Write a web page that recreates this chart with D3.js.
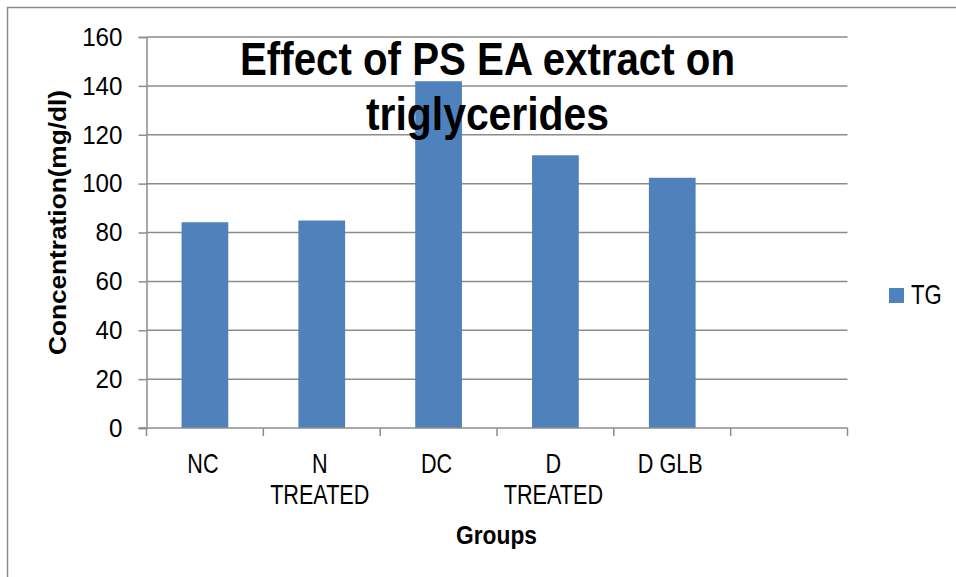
<!DOCTYPE html>
<html>
<head>
<meta charset="utf-8">
<script src="https://cdn.jsdelivr.net/npm/d3@7"></script>
<style>
  body { margin: 0; background: #fff; }
  text { font-family: "Liberation Sans Narrow", "Arial Narrow", "Liberation Sans", Arial, sans-serif; }
</style>
</head>
<body>
<div id="chart"></div>
<script>
// chart data
var groups = ["NC", "N\nTREATED", "DC", "D\nTREATED", "D GLB", ""];
var tg_values = [84.2, 84.9, 141.9, 111.6, 102.4, null];
var y_ticks = [0, 20, 40, 60, 80, 100, 120, 140, 160];
var series_name = "TG";
var title_lines = ["Effect of PS EA extract on", "triglycerides"];

var W = 956, H = 577;
var margin = {top: 37, right: 109, bottom: 149, left: 146.5};

var svg = d3.select("#chart")
  .append("svg")
  .attr("width", W)
  .attr("height", H);

// squeeze text horizontally around its anchor (the original uses a narrow font)
function squeeze(sel, cx, sx) {
  sel.attr("transform", "translate(" + cx + ",0) scale(" + sx + ",1) translate(" + (-cx) + ",0)");
}

// outer chart border (cut off on right and bottom)
svg.append("rect")
  .attr("x", 7.5).attr("y", 7.5)
  .attr("width", W + 20).attr("height", H + 20)
  .attr("fill", "none")
  .attr("stroke", "#8c8c8c")
  .attr("stroke-width", 1.5);

var x = d3.scaleBand()
  .domain(d3.range(groups.length))
  .range([margin.left, W - margin.right + 0.5])
  .paddingInner(0.6)
  .paddingOuter(0.3);

var y = d3.scaleLinear()
  .domain([0, 160])
  .range([H - margin.bottom, margin.top]);

// gridlines
svg.append("g")
  .selectAll("line")
  .data(y_ticks.slice(1))
  .enter()
  .append("line")
    .attr("x1", margin.left)
    .attr("x2", W - margin.right + 0.5)
    .attr("y1", function (d) { return y(d); })
    .attr("y2", function (d) { return y(d); })
    .attr("stroke", "#8c8c8c")
    .attr("stroke-width", 1.5);

// y axis
var yAxis = d3.axisLeft(y)
  .tickValues(y_ticks)
  .tickSize(8)
  .tickPadding(16);
var gy = svg.append("g")
  .attr("transform", "translate(" + margin.left + ",0)")
  .call(yAxis);
gy.select(".domain").attr("stroke", "#8c8c8c").attr("stroke-width", 1.5);
gy.selectAll(".tick line").attr("stroke", "#8c8c8c").attr("stroke-width", 1.5);
gy.selectAll(".tick text")
  .attr("fill", "#000")
  .style("font-size", "26px")
  .each(function () { squeeze(d3.select(this), -24, 0.93); });

// bars
svg.append("g")
  .selectAll("rect")
  .data(tg_values)
  .enter()
  .filter(function (d) { return d != null; })
  .append("rect")
    .attr("x", function (d, i) { return x(i); })
    .attr("y", function (d) { return y(d); })
    .attr("width", x.bandwidth())
    .attr("height", function (d) { return y(0) - y(d); })
    .attr("fill", "#4f81bd");

// x axis line + ticks at category borders
var x0 = y(0);
var step = x.step();
var gx = svg.append("g");
gx.append("line")
  .attr("x1", margin.left - 8)
  .attr("x2", W - margin.right + 0.5)
  .attr("y1", x0).attr("y2", x0)
  .attr("stroke", "#8c8c8c")
  .attr("stroke-width", 1.5);
gx.selectAll(".xt")
  .data(d3.range(groups.length + 1))
  .enter()
  .append("line")
    .attr("class", "xt")
    .attr("x1", function (d) { return margin.left + d * step; })
    .attr("x2", function (d) { return margin.left + d * step; })
    .attr("y1", x0)
    .attr("y2", x0 + 8)
    .attr("stroke", "#8c8c8c")
    .attr("stroke-width", 1.5);

// category labels
gx.selectAll(".xl")
  .data(groups)
  .enter()
  .append("text")
    .attr("class", "xl")
    .attr("text-anchor", "middle")
    .style("font-size", "27px")
    .attr("fill", "#000")
    .each(function (d, i) {
      var t = d3.select(this);
      var cx = x(i) + x.bandwidth() / 2 - 2;
      d.split("\n").forEach(function (line, k) {
        t.append("tspan")
          .attr("x", cx)
          .attr("y", 473 + k * 31)
          .text(line);
      });
      squeeze(t, cx, 0.8);
    });

// axis titles
svg.append("text")
  .attr("x", 496.5)
  .attr("y", 544)
  .attr("text-anchor", "middle")
  .style("font-size", "26px")
  .style("font-weight", "bold")
  .attr("fill", "#000")
  .attr("textLength", 81)
  .attr("lengthAdjust", "spacingAndGlyphs")
  .text("Groups");

svg.append("text")
  .attr("transform", "translate(66,222.5) rotate(-90)")
  .attr("text-anchor", "middle")
  .style("font-size", "24px")
  .style("font-weight", "bold")
  .attr("fill", "#000")
  .attr("textLength", 265)
  .attr("lengthAdjust", "spacingAndGlyphs")
  .text("Concentration(mg/dl)");

// chart title
var title_widths = [495, 243];
svg.append("g")
  .selectAll("text")
  .data(title_lines)
  .enter()
  .append("text")
    .attr("x", function (d, i) { return 487.5 - title_widths[i] / 2; })
    .attr("y", function (d, i) { return 75 + i * 55; })
    .style("font-size", "46px")
    .style("font-weight", "bold")
    .attr("fill", "#000")
    .attr("textLength", function (d, i) { return title_widths[i]; })
    .attr("lengthAdjust", "spacingAndGlyphs")
    .text(function (d) { return d; });

// legend
var lg = svg.append("g").attr("transform", "translate(889,288)");
lg.append("rect")
  .attr("width", 15).attr("height", 15)
  .attr("fill", "#4f81bd");
var lt = lg.append("text")
  .attr("x", 22).attr("y", 16)
  .style("font-size", "27px")
  .attr("fill", "#000")
  .text(series_name);
squeeze(lt, 22, 0.82);
</script>
</body>
</html>
